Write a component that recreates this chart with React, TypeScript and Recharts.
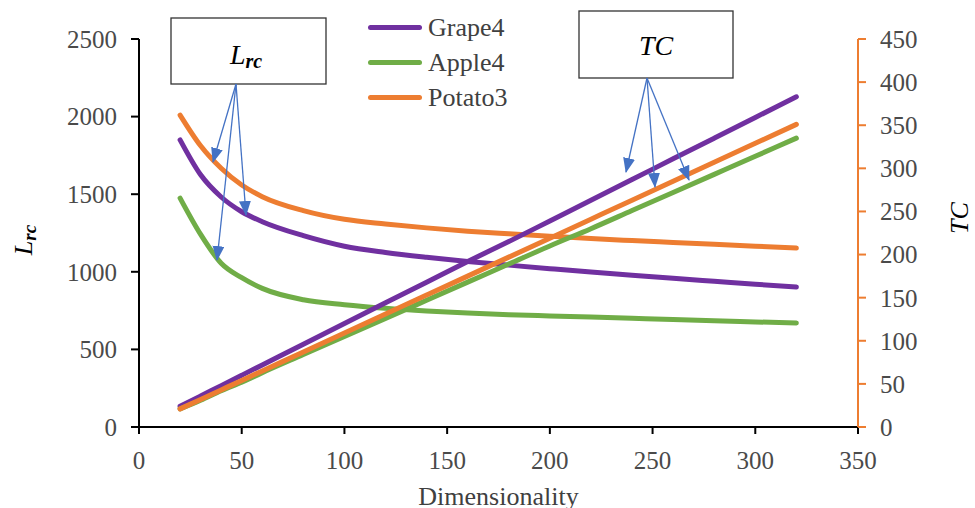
import React from "react";
import { LineChart, Line, XAxis, YAxis, Legend } from "recharts";

// dimensionality sample points
const dims = [20, 30, 40, 50, 60, 80, 100, 120, 140, 160, 180, 200, 220, 240, 260, 280, 300, 320];

// Lrc (left axis)
const grapeLrc = [1850, 1625, 1482, 1387, 1323, 1233, 1165, 1125, 1094, 1067, 1043, 1020, 998, 978, 958, 939, 920, 902];
const appleLrc = [1475, 1241, 1055, 962, 893, 820, 788, 765, 748, 735, 724, 716, 708, 700, 692, 685, 677, 670];
const potatoLrc = [2010, 1812, 1667, 1559, 1484, 1394, 1338, 1308, 1283, 1262, 1245, 1229, 1214, 1201, 1189, 1177, 1165, 1153];

// TC (right axis)
const grapeTC = [24, 36, 48, 60, 72, 96, 120, 144, 168, 192, 215, 239, 263, 287, 311, 335, 359, 383];
const appleTC = [21, 31, 42, 52, 63, 84, 105, 126, 147, 168, 189, 210, 230, 251, 272, 293, 314, 335];
const potatoTC = [21, 32, 43, 54, 65, 87, 109, 131, 153, 175, 197, 219, 241, 263, 285, 307, 329, 351];

const seriesNames = ["Grape4", "Apple4", "Potato3"];
const xTicks = [0, 50, 100, 150, 200, 250, 300, 350];
const lrcTicks = [0, 500, 1000, 1500, 2000, 2500];
const tcTicks = [0, 50, 100, 150, 200, 250, 300, 350, 400, 450];

const COLORS = { grape: "#7030A0", apple: "#70AD47", potato: "#ED7D31", arrow: "#4472C4" };
const FONT = "'Liberation Serif', 'Times New Roman', serif";
const TICK = { fontSize: 25, fill: "#4a4a4a", fontFamily: FONT };

const data = dims.map((d, i) => ({
  d,
  grapeLrc: grapeLrc[i],
  appleLrc: appleLrc[i],
  potatoLrc: potatoLrc[i],
  grapeTC: grapeTC[i],
  appleTC: appleTC[i],
  potatoTC: potatoTC[i],
}));

function LegendBox({ payload }: any) {
  const items = (payload || [])
    .filter((p: any) => seriesNames.includes(p.value))
    .sort((a: any, b: any) => seriesNames.indexOf(a.value) - seriesNames.indexOf(b.value));
  return (
    <div style={{ fontFamily: FONT, fontSize: 26, color: "#404040", lineHeight: "35px" }}>
      {items.map((p: any) => (
        <div key={p.value} style={{ display: "flex", alignItems: "center" }}>
          <span style={{ display: "inline-block", width: 54, height: 5, borderRadius: 3, background: p.color, marginRight: 6 }} />
          {p.value}
        </div>
      ))}
    </div>
  );
}

function Annotations() {
  const arrow = (x1: number, y1: number, x2: number, y2: number, k: string) => (
    <line key={k} x1={x1} y1={y1} x2={x2} y2={y2} stroke={COLORS.arrow} strokeWidth={1.3} markerEnd="url(#ah)" />
  );
  return (
    <svg width={975} height={508} style={{ position: "absolute", left: 0, top: 0, pointerEvents: "none" }}>
      <defs>
        <marker id="ah" markerWidth="16" markerHeight="14" refX="14" refY="6" orient="auto" markerUnits="userSpaceOnUse">
          <path d="M0,0 L15,6 L0,12 z" fill={COLORS.arrow} />
        </marker>
      </defs>
      <rect x={171} y={18} width={155} height={66} fill="#fff" stroke="#333" strokeWidth={1.3} />
      <text x={246} y={64} textAnchor="middle" fontFamily={FONT} fontSize={28} fill="#000">
        <tspan fontStyle="italic">L</tspan>
        <tspan fontStyle="italic" fontWeight="bold" fontSize={20} dy={4}>rc</tspan>
      </text>
      {arrow(236, 84, 213, 162, "a1")}
      {arrow(236, 84, 246, 215, "a2")}
      {arrow(236, 84, 217, 260, "a3")}
      <rect x={579} y={11} width={154} height={67} fill="#fff" stroke="#333" strokeWidth={1.3} />
      <text x={656} y={55} textAnchor="middle" fontFamily={FONT} fontSize={28} fontStyle="italic" fill="#000">TC</text>
      {arrow(647, 78, 626, 172, "b1")}
      {arrow(647, 78, 655, 187, "b2")}
      {arrow(647, 78, 689, 180, "b3")}
    </svg>
  );
}

export default function App() {
  return (
    <div style={{ position: "absolute", left: 0, top: 0, width: 975, height: 508, background: "#fff" }}>
      <LineChart width={975} height={508} data={data} margin={{ top: 39, right: 0, bottom: 0, left: 0 }}>
        <XAxis
          type="number"
          dataKey="d"
          domain={[0, 350]}
          ticks={xTicks}
          height={81}
          tick={TICK}
          tickSize={7}
          tickMargin={17}
          stroke="#000"
          strokeWidth={2}
          tickLine={{ stroke: "#000", strokeWidth: 2 }}
          label={{ value: "Dimensionality", position: "insideBottom", offset: 3, fontSize: 26, fill: "#404040", fontFamily: FONT }}
        />
        <YAxis
          yAxisId="lrc"
          domain={[0, 2500]}
          ticks={lrcTicks}
          width={139}
          tick={TICK}
          tickSize={8}
          tickMargin={14}
          stroke="#000"
          strokeWidth={2}
          tickLine={{ stroke: "#000", strokeWidth: 2 }}
          label={{
            content: (props: any) => {
              const vb = props.viewBox || { x: 0, y: 39, height: 388 };
              const cx = vb.x + 24;
              const cy = vb.y + vb.height / 2 + 7;
              return (
                <text transform={`rotate(-90, ${cx}, ${cy})`} x={cx} y={cy + 8} textAnchor="middle" fontFamily={FONT} fontSize={26} fill="#000">
                  <tspan fontStyle="italic">L</tspan>
                  <tspan fontStyle="italic" fontWeight="bold" fontSize={19} dy={4}>rc</tspan>
                </text>
              );
            },
          }}
        />
        <YAxis
          yAxisId="tc"
          orientation="right"
          domain={[0, 450]}
          ticks={tcTicks}
          width={117}
          tick={TICK}
          tickSize={8}
          tickMargin={14}
          stroke={COLORS.potato}
          strokeWidth={2}
          tickLine={{ stroke: COLORS.potato, strokeWidth: 2 }}
          label={{
            content: (props: any) => {
              const vb = props.viewBox || { x: 858, y: 39, height: 388 };
              const cx = 960;
              const cy = vb.y + vb.height / 2 - 15;
              return (
                <text transform={`rotate(-90, ${cx}, ${cy})`} x={cx} y={cy + 8} textAnchor="middle" fontFamily={FONT} fontSize={26} fontStyle="italic" fill="#000">
                  TC
                </text>
              );
            },
          }}
        />
        <Legend
          layout="vertical"
          align="center"
          verticalAlign="middle"
          content={<LegendBox />}
          wrapperStyle={{ position: "absolute", left: 368, top: 10, width: 200 }}
        />
        <Line yAxisId="lrc" type="monotone" dataKey="grapeLrc" name="Grape4" stroke={COLORS.grape} strokeWidth={5} strokeLinecap="round" dot={false} isAnimationActive={false} />
        <Line yAxisId="lrc" type="monotone" dataKey="appleLrc" name="Apple4" stroke={COLORS.apple} strokeWidth={5} strokeLinecap="round" dot={false} isAnimationActive={false} />
        <Line yAxisId="lrc" type="monotone" dataKey="potatoLrc" name="Potato3" stroke={COLORS.potato} strokeWidth={5} strokeLinecap="round" dot={false} isAnimationActive={false} />
        <Line yAxisId="tc" type="monotone" dataKey="grapeTC" name="Grape4 TC" legendType="none" stroke={COLORS.grape} strokeWidth={5} strokeLinecap="round" dot={false} isAnimationActive={false} />
        <Line yAxisId="tc" type="monotone" dataKey="appleTC" name="Apple4 TC" legendType="none" stroke={COLORS.apple} strokeWidth={5} strokeLinecap="round" dot={false} isAnimationActive={false} />
        <Line yAxisId="tc" type="monotone" dataKey="potatoTC" name="Potato3 TC" legendType="none" stroke={COLORS.potato} strokeWidth={5} strokeLinecap="round" dot={false} isAnimationActive={false} />
      </LineChart>
      <Annotations />
    </div>
  );
}
